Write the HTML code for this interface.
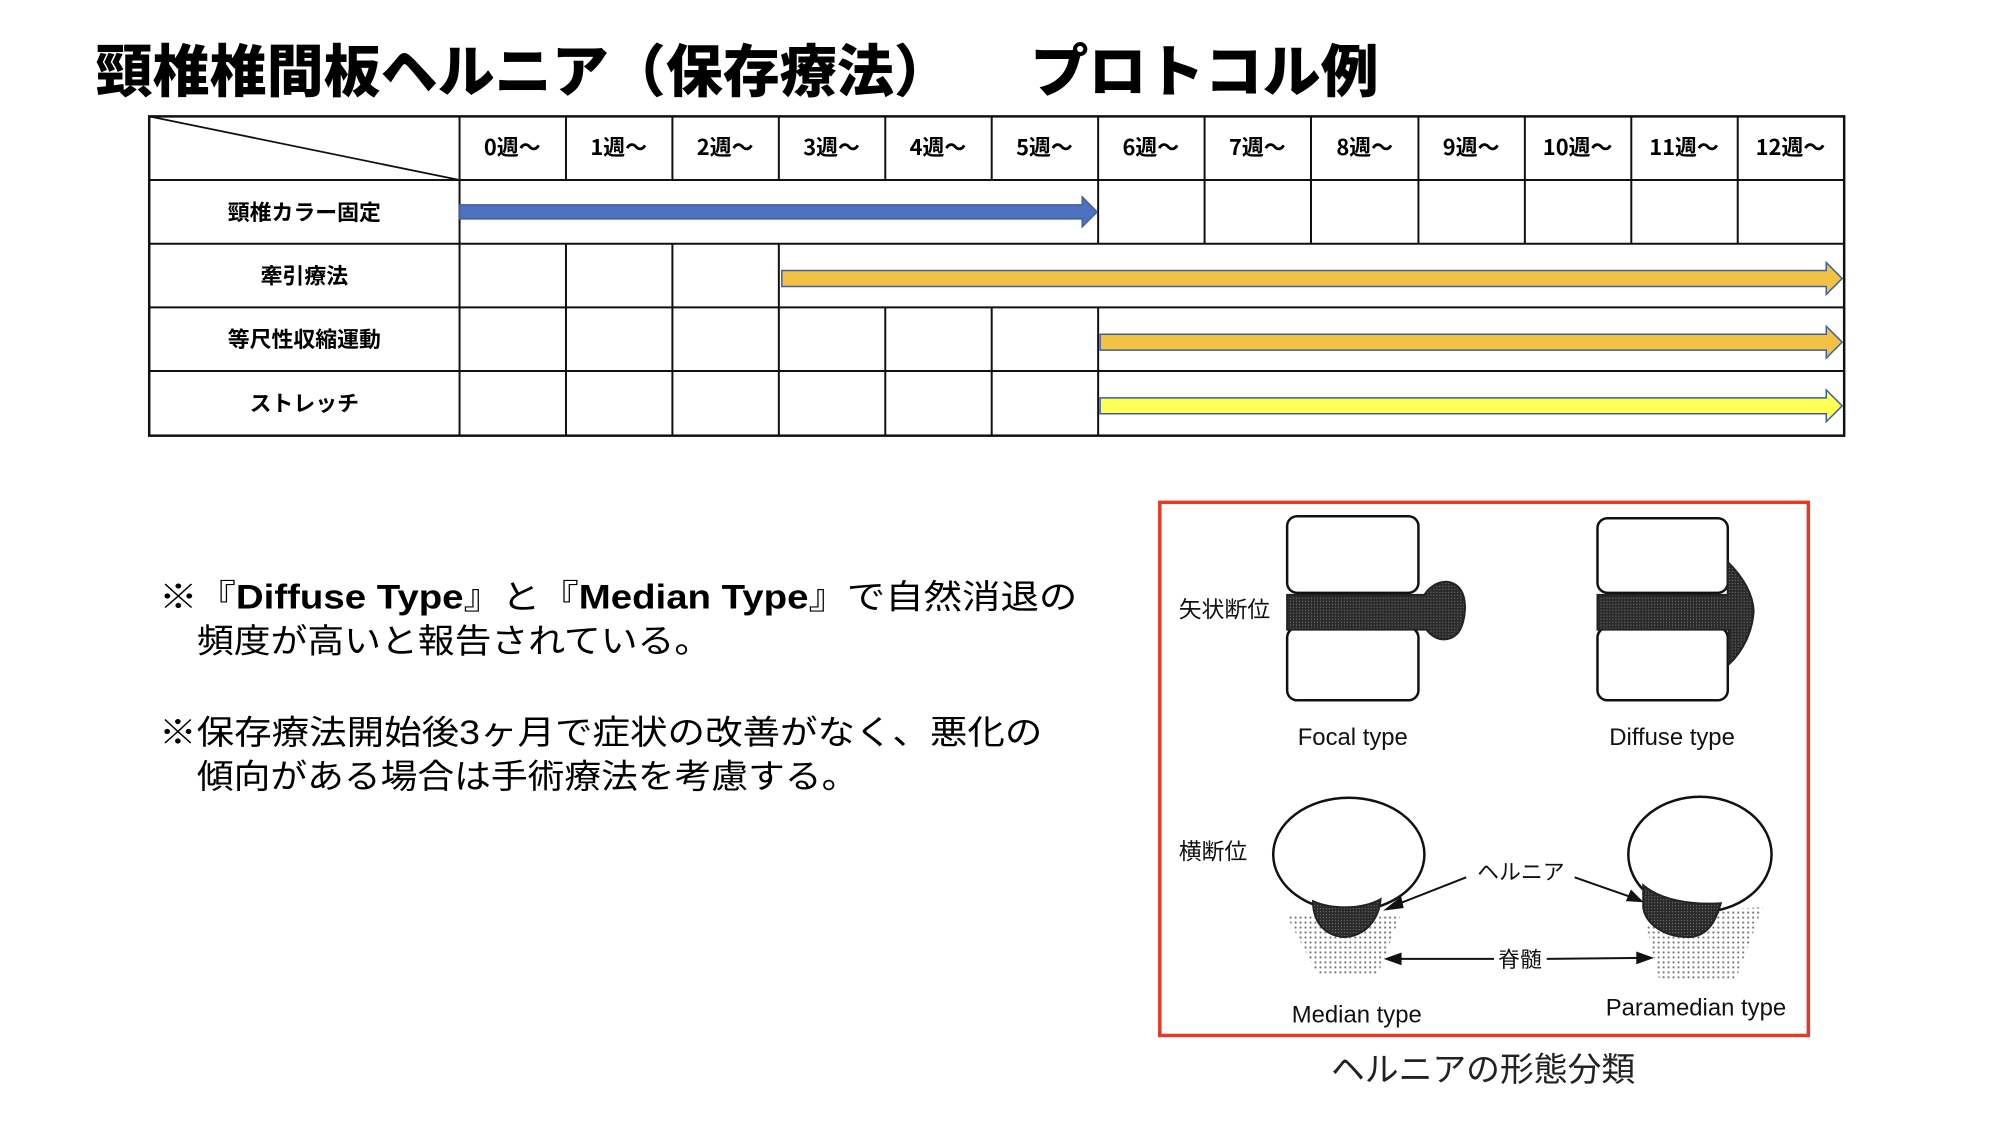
<!DOCTYPE html>
<html><head><meta charset="utf-8"><style>
html,body{margin:0;padding:0;background:#fff;}
svg{display:block;}
</style></head><body>
<svg width="2000" height="1125" viewBox="0 0 2010 1131" preserveAspectRatio="xMinYMin meet" xmlns="http://www.w3.org/2000/svg" font-family="'Liberation Sans','Noto Sans CJK JP',sans-serif">
<defs>
<pattern id="dots" width="5" height="5" patternUnits="userSpaceOnUse"><circle cx="2.5" cy="2.5" r="1.1" fill="#555"/></pattern>
<pattern id="dark" width="3" height="3" patternUnits="userSpaceOnUse"><rect width="3" height="3" fill="#2a2a2a"/><circle cx="1.5" cy="1.5" r="0.6" fill="#777"/></pattern>
</defs>
<rect x="0" y="0" width="2010" height="1131" fill="#fff"/>
<!-- Title -->
<text x="96" y="92" font-size="57" font-weight="900" font-family="'Noto Sans CJK JP',sans-serif" textLength="860" lengthAdjust="spacingAndGlyphs">頸椎椎間板ヘルニア（保存療法）</text>
<text x="1036" y="92" font-size="57" font-weight="900" font-family="'Noto Sans CJK JP',sans-serif" textLength="350" lengthAdjust="spacingAndGlyphs">プロトコル例</text>

<!-- Table -->
<g stroke="#111" stroke-width="2" fill="none">
<rect x="150" y="117" width="1704" height="321" stroke-width="2.5"/>
<line x1="150" y1="181" x2="1854" y2="181"/>
<line x1="150" y1="245" x2="1854" y2="245"/>
<line x1="150" y1="309" x2="1854" y2="309"/>
<line x1="150" y1="373" x2="1854" y2="373"/>
<line x1="462" y1="117" x2="462" y2="438"/>
<line x1="150" y1="117" x2="462" y2="181" stroke-width="1.8"/>
<path d="M569 117V181M676 117V181M783 117V181M890 117V181M997 117V181M1104 117V181M1211 117V181M1318 117V181M1426 117V181M1533 117V181M1640 117V181M1747 117V181"/>
<path d="M1104 181V245M1211 181V245M1318 181V245M1426 181V245M1533 181V245M1640 181V245M1747 181V245"/>
<path d="M569 245V309M676 245V309M783 245V309"/>
<path d="M569 309V438M676 309V438M783 309V438M890 309V438M997 309V438M1104 309V438"/>
</g>
<g font-size="22" font-weight="700" font-family="'Noto Sans CJK JP',sans-serif" text-anchor="middle">
<text x="515" y="156">0週～</text><text x="622" y="156">1週～</text><text x="729" y="156">2週～</text><text x="836" y="156">3週～</text><text x="943" y="156">4週～</text><text x="1050" y="156">5週～</text><text x="1157" y="156">6週～</text><text x="1264" y="156">7週～</text><text x="1372" y="156">8週～</text><text x="1479" y="156">9週～</text><text x="1586" y="156">10週～</text><text x="1693" y="156">11週～</text><text x="1800" y="156">12週～</text>
<text x="306" y="221">頸椎カラー固定</text>
<text x="306" y="285">牽引療法</text>
<text x="306" y="349">等尺性収縮運動</text>
<text x="306" y="413">ストレッチ</text>
</g>
<g stroke="#3f5fa0" stroke-width="1.5">
<path d="M462 206H1088V198L1103 213L1088 228V220H462Z" fill="#4f72c0"/>
<path d="M786 272H1836V264L1852 280L1836 296V288H786Z" fill="#f4c242"/>
<path d="M1106 336H1836V328L1852 344L1836 360V352H1106Z" fill="#f4c242"/>
<path d="M1106 400H1836V392L1852 408L1836 424V416H1106Z" fill="#ffff55"/>
</g>

<!-- Notes -->
<g font-size="34" font-family="'Liberation Sans','Noto Sans CJK JP',sans-serif">
<text x="160" y="612" textLength="923" lengthAdjust="spacingAndGlyphs">※『<tspan font-weight="700">Diffuse Type</tspan>』と『<tspan font-weight="700">Median Type</tspan>』で自然消退の</text>
<text x="198" y="656" textLength="517" lengthAdjust="spacingAndGlyphs">頻度が高いと報告されている。</text>
<text x="160" y="748" textLength="888" lengthAdjust="spacingAndGlyphs">※保存療法開始後3ヶ月で症状の改善がなく、悪化の</text>
<text x="198" y="792" textLength="665" lengthAdjust="spacingAndGlyphs">傾向がある場合は手術療法を考慮する。</text>
</g>

<!-- Diagram box -->
<rect x="1166" y="505" width="652" height="536" fill="none" stroke="#e53929" stroke-width="3.5"/>
<g font-family="'Noto Sans CJK JP',sans-serif" font-size="23" fill="#111">
<text x="1185" y="621">矢状断位</text>
<text x="1185" y="864">横断位</text>
</g>
<g stroke="#111" stroke-width="2.5" fill="#fff">
<rect x="1294" y="519" width="132" height="77" rx="10"/>
<rect x="1294" y="631" width="132" height="73" rx="10"/>
<rect x="1606" y="521" width="131" height="75" rx="10"/>
<rect x="1606" y="631" width="131" height="73" rx="10"/>
</g>
<path d="M1294 598H1432C1440 586 1455 580 1466 590C1476 600 1474 625 1466 636C1458 645 1444 646 1434 633H1294Z" fill="url(#dark)" stroke="#222" stroke-width="2"/>
<path d="M1606 598H1737V565C1752 580 1762 596 1763 614C1762 635 1752 655 1738 668V633H1606Z" fill="url(#dark)" stroke="#222" stroke-width="2"/>
<g font-size="24" font-family="'Liberation Sans',sans-serif" text-anchor="middle" fill="#111">
<text x="1360" y="749">Focal  type</text>
<text x="1681" y="749">Diffuse  type</text>
<text x="1364" y="1028">Median  type</text>
<text x="1705" y="1021">Paramedian  type</text>
</g>
<path d="M1293 920L1325 980H1385L1408 920Z" fill="url(#dots)" opacity="0.8"/>
<path d="M1655 930L1668 985H1745L1772 912L1720 915Z" fill="url(#dots)" opacity="0.8"/>
<ellipse cx="1356" cy="859" rx="76" ry="57" fill="#fff" stroke="#111" stroke-width="2.5"/>
<ellipse cx="1709" cy="859" rx="72" ry="58" fill="#fff" stroke="#111" stroke-width="2.5"/>
<path d="M1320 906C1340 915 1370 914 1388 904C1386 925 1372 942 1350 942C1330 940 1320 925 1320 906Z" fill="url(#dark)" stroke="#222" stroke-width="2"/>
<path d="M1652 890C1670 905 1700 910 1730 908C1725 925 1718 940 1700 942C1675 943 1655 930 1652 913Z" fill="url(#dark)" stroke="#222" stroke-width="2"/>
<g stroke="#111" stroke-width="2" fill="#111">
<line x1="1474" y1="882" x2="1400" y2="911"/><path d="M1394 914L1408 903L1410 912Z"/>
<line x1="1583" y1="882" x2="1643" y2="903"/><path d="M1650 906L1636 905L1640 896Z"/>
<line x1="1400" y1="964" x2="1502" y2="964"/><line x1="1555" y1="964" x2="1654" y2="963"/>
<path d="M1394 964L1408 959V969Z"/><path d="M1660 963L1646 958V968Z"/>
</g>
<g font-family="'Noto Sans CJK JP',sans-serif" font-size="22" text-anchor="middle" fill="#111">
<text x="1529" y="884">ヘルニア</text>
<text x="1528" y="972">脊髄</text>
</g>
<text x="1491" y="1087" font-size="34" text-anchor="middle" font-family="'Noto Sans CJK JP',sans-serif" fill="#222">ヘルニアの形態分類</text>
</svg>
</body></html>
